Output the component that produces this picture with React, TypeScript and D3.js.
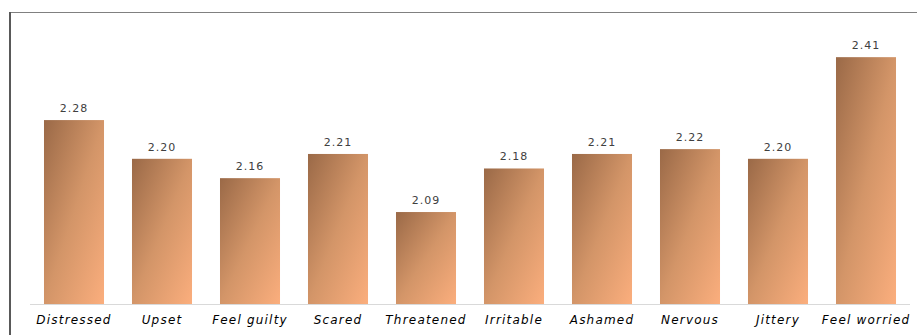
import React from "react";
import * as d3 from "d3";

const categories = ["Distressed", "Upset", "Feel guilty", "Scared", "Threatened", "Irritable", "Ashamed", "Nervous", "Jittery", "Feel worried"];
const values = [2.28, 2.2, 2.16, 2.21, 2.09, 2.18, 2.21, 2.22, 2.2, 2.41];
const yDomain = [1.9, 2.5];

export default function App() {
  const W = 917, H = 335;
  const x = d3.scaleBand<string>().domain(categories).range([30, 910]).paddingInner(0.318).paddingOuter(0.159);
  const y = d3.scaleLinear().domain(yDomain).range([304, 13.6]);
  return (
    <svg width={W} height={H} style={{ position: "absolute", left: 0, top: 0 }}>
      <defs>
        <linearGradient id="barGrad" x1="0" y1="0" x2="1" y2="1">
          <stop offset="0" stopColor="#9a6947" />
          <stop offset="0.5" stopColor="#d39568" />
          <stop offset="1" stopColor="#fbae7d" />
        </linearGradient>
      </defs>
      <rect x={0} y={0} width={W} height={H} fill="#fff" />
      <line x1={10} x2={W} y1={12.5} y2={12.5} stroke="#808080" strokeWidth={1} />
      <line x1={10} x2={10} y1={12} y2={H} stroke="#595959" strokeWidth={2} />
      <line x1={30} x2={910} y1={304.5} y2={304.5} stroke="#d9d9d9" strokeWidth={1} />
      {categories.map((c, i) => {
        const bx = x(c)!;
        const by = y(values[i]);
        const cx = bx + x.bandwidth() / 2;
        return (
          <g key={c}>
            <rect x={bx} y={by} width={x.bandwidth()} height={304 - by} fill="url(#barGrad)" />
            <text x={cx} y={by - 8} textAnchor="middle" fontFamily="DejaVu Sans" fontSize={11} letterSpacing={1} fill="#404040">
              {values[i].toFixed(2)}
            </text>
            <text x={cx} y={324} textAnchor="middle" fontFamily="DejaVu Sans" fontStyle="italic" fontSize={12} letterSpacing={1.2} fill="#000">
              {c}
            </text>
          </g>
        );
      })}
    </svg>
  );
}
